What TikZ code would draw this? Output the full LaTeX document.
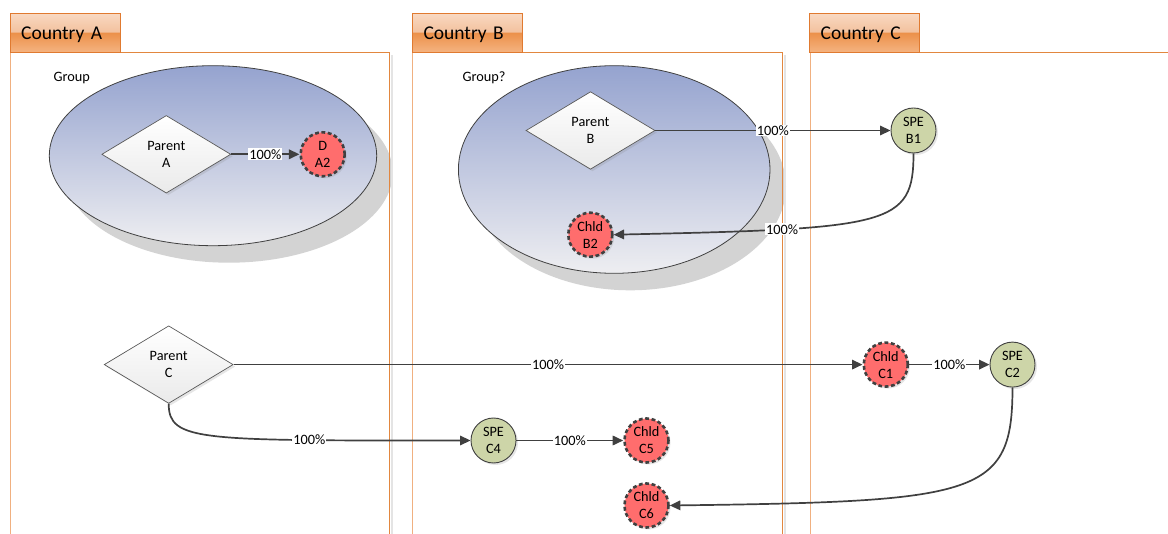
\documentclass[tikz,border=0pt]{standalone}
\usepackage{fontspec}
\setmainfont{Carlito}
\usetikzlibrary{shapes.geometric,arrows.meta,shadows}

\definecolor{laneor}{HTML}{E2873F}
\definecolor{laneorl}{HTML}{F0B080}
\definecolor{laneshadow}{HTML}{E4E4E4}
\definecolor{tabtop}{HTML}{F9D9C2}
\definecolor{tabupper}{HTML}{F3C29F}
\definecolor{tabmid}{HTML}{EC914A}
\definecolor{tabbot}{HTML}{F5B482}
\definecolor{tabborder}{HTML}{E07A30}
\definecolor{grptop}{HTML}{95A3CF}
\definecolor{grpbot}{HTML}{EEEEF1}
\definecolor{grpshadow}{HTML}{D3D3D3}
\definecolor{redfill}{HTML}{FF6D6D}
\definecolor{greenfill}{HTML}{CDD5A8}
\definecolor{edgecol}{HTML}{404040}
\definecolor{diabot}{HTML}{EAEAEA}

\pgfdeclareverticalshading{tabshade}{100bp}{color(0bp)=(tabbot); color(25bp)=(tabbot); color(50bp)=(tabmid); color(52bp)=(tabupper); color(75bp)=(tabtop); color(100bp)=(tabtop)}

\tikzset{
  x=1pt, y=-1pt,
  txt/.style={font=\fontsize{14.3pt}{17pt}\selectfont, text=black},
  tabbox/.style={draw=tabborder, line width=0.8pt, shading=tabshade,
    minimum width=110pt, minimum height=39.5pt, inner xsep=11pt, inner ysep=0pt,
    text width=88pt, align=left, text height=12.6pt, text depth=0pt,
    font=\fontsize{19.5pt}{22pt}\selectfont},
  groupel/.style={ellipse, draw=edgecol, line width=0.8pt, top color=grptop, bottom color=grpbot,
    inner sep=0pt,
    drop shadow={shadow xshift=16pt, shadow yshift=-17pt, fill=grpshadow, opacity=1}},
  parentbox/.style={diamond, txt, align=center, draw=gray!70!black, line width=0.7pt,
    top color=white, bottom color=diabot, minimum width=129pt, minimum height=77.6pt,
    inner sep=0pt, aspect=1.66,
    drop shadow={shadow xshift=2pt, shadow yshift=-2pt, opacity=0.2}},
  childbox/.style={circle, txt, align=center, fill=redfill, draw=edgecol, line width=2.6pt,
    dash pattern=on 3.8pt off 2.6pt, minimum size=44pt, inner sep=0pt,
    drop shadow={shadow xshift=2pt, shadow yshift=-2pt, opacity=0.2}},
  spebox/.style={circle, txt, align=center, fill=greenfill, draw=edgecol, line width=0.9pt,
    minimum size=45pt, inner sep=0pt,
    drop shadow={shadow xshift=2pt, shadow yshift=-2pt, opacity=0.2}},
  conn/.style={draw=edgecol, line width=1.7pt, -{Triangle[length=10.5pt,width=9.5pt]}},
  lbl/.style={txt, fill=white, inner sep=1pt},
}

\begin{document}
\begin{tikzpicture}
\useasboundingbox (0,0) rectangle (1168,534);

% group ellipses
\node[groupel, minimum width=327.4pt, minimum height=180pt] (grpA) at (213,155.7) {};
\node[groupel, minimum width=311.6pt, minimum height=207.6pt] (grpB) at (614.2,169.5) {};
\node[txt] (grpAlbl) at (71.7,78) {Group};
\node[txt] (grpBlbl) at (484,78) {Group?};

% lanes
\draw[laneshadow, line width=2pt] (391.5,55) -- (391.5,534);
\draw[laneshadow, line width=2pt] (784.9,55) -- (784.9,534);
\draw[laneorl, line width=1pt] (10.7,52.7) -- (10.7,534);
\draw[laneor, line width=1.2pt] (10.7,52.7) -- (389.3,52.7) -- (389.3,534);
\draw[laneorl, line width=1pt] (412.7,52.7) -- (412.7,534);
\draw[laneor, line width=1.2pt] (412.7,52.7) -- (782.7,52.7) -- (782.7,534);
\draw[laneorl, line width=1pt] (810,52.7) -- (810,534);
\draw[laneor, line width=1.2pt] (810,52.7) -- (1168,52.7);

% tabs
\node[tabbox] (tabA) at (65.2,33) {Country A};
\node[tabbox] (tabB) at (467.5,33) {Country B};
\node[tabbox] (tabC) at (864.7,33) {Country C};

% nodes
\node[parentbox] (PA) at (166.3,154.3) {Parent\\A};
\node[childbox] (DA2) at (322.7,154.3) {D\\A2};
\node[parentbox] (PB) at (590.5,130.5) {Parent\\B};
\node[spebox] (B1) at (913.5,130.5) {SPE\\B1};
\node[childbox] (B2) at (590.3,234.7) {Chld\\B2};
\node[parentbox] (PC) at (168.7,364.6) {Parent\\C};
\node[childbox] (C1) at (885.8,364.6) {Chld\\C1};
\node[spebox] (C2) at (1012.5,364.6) {SPE\\C2};
\node[spebox] (C4) at (493.5,440.5) {SPE\\C4};
\node[childbox] (C5) at (646.5,440.5) {Chld\\C5};
\node[childbox] (C6) at (646.5,505.5) {Chld\\C6};

% connectors
\draw[conn] (PA) -- node[lbl] {100\%} (DA2);
\draw[conn] (PB) -- node[lbl] {100\%} (B1);
\draw[conn] (B1.south) .. controls +(0,72) and +(277,-6) .. node[lbl, pos=0.74] {100\%} (B2.east);
\draw[conn] (PC) -- node[lbl] {100\%} (C1);
\draw[conn] (C1) -- node[lbl] {100\%} (C2);
\draw[conn] (PC.south) .. controls +(0,38) and +(-270,0) .. node[lbl, pos=0.75] {100\%} (C4.west);
\draw[conn] (C4) -- node[lbl] {100\%} (C5);
\draw[conn] (C2.south) .. controls +(0,108) and +(310,-4) .. (C6.east);
\end{tikzpicture}
\end{document}
